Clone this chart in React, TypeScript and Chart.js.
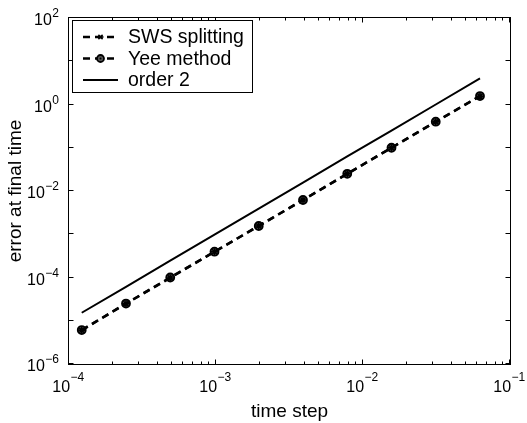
import React, { useEffect, useRef } from "react";
import { Chart, registerables } from "chart.js";

Chart.register(...registerables);

// ---- data ----
const timeSteps = [1.2207e-4, 2.4414e-4, 4.8828e-4, 9.7656e-4, 1.9531e-3, 3.9063e-3, 7.8125e-3, 1.5625e-2, 3.125e-2, 6.25e-2];
const swsError = [6.0e-6, 2.48e-5, 9.8e-5, 3.93e-4, 1.56e-3, 6.2e-3, 2.49e-2, 0.1, 0.398, 1.56];
const yeeError = [6.1e-6, 2.5e-5, 1.0e-4, 3.95e-4, 1.55e-3, 6.2e-3, 2.5e-2, 0.1, 0.4, 1.57];
const order2Line = [1.53e-5, 6.1e-5, 2.45e-4, 9.8e-4, 3.9e-3, 1.57e-2, 6.3e-2, 0.25, 1.0, 4.0];

const xTickExponents = [-4, -3, -2, -1];
const yMajorExponents = [-6, -5, -4, -3, -2, -1, 0, 1, 2];
const yLabelExponents = [-6, -4, -2, 0, 2];
const legendLabels = ["SWS splitting", "Yee method", "order 2"];
const xTitle = "time step";
const yTitle = "error at final time";

const FONT = '"Liberation Sans", Arial, Helvetica, sans-serif';

function supLabel(e: number) {
  return e < 0 ? "\u2212" + String(-e) : String(e);
}

export default function App() {
  const ref = useRef<HTMLCanvasElement>(null);

  useEffect(() => {
    const canvas = ref.current;
    if (!canvas) return;

    const decorations = {
      id: "matlabAxes",
      afterDraw(chart: any) {
        const ctx: CanvasRenderingContext2D = chart.ctx;
        const { left, right, top, bottom } = chart.chartArea;
        const xs = chart.scales.x;
        const ys = chart.scales.y;
        ctx.save();
        ctx.strokeStyle = "#000";
        ctx.fillStyle = "#000";
        ctx.lineWidth = 1;
        ctx.setLineDash([]);

        const L = Math.round(left) - 0.5;
        const R = Math.round(right) + 0.5;
        const T = Math.round(top) - 0.5;
        const B = Math.round(bottom) + 0.5;
        ctx.strokeRect(L, T, R - L, B - T);

        // x ticks (major + minor), inside, bottom and top
        ctx.beginPath();
        for (let i = 0; i < xTickExponents.length; i++) {
          const e = xTickExponents[i];
          const base = Math.pow(10, e);
          const px = Math.round(xs.getPixelForValue(base)) - 0.5;
          ctx.moveTo(px, B); ctx.lineTo(px, B - 5);
          ctx.moveTo(px, T); ctx.lineTo(px, T + 5);
          if (i < xTickExponents.length - 1) {
            for (let k = 2; k <= 9; k++) {
              const mx = Math.round(xs.getPixelForValue(k * base)) - 0.5;
              ctx.moveTo(mx, B); ctx.lineTo(mx, B - 3);
              ctx.moveTo(mx, T); ctx.lineTo(mx, T + 3);
            }
          }
        }
        for (const e of yMajorExponents) {
          const py = Math.round(ys.getPixelForValue(Math.pow(10, e))) - 0.5;
          ctx.moveTo(L, py); ctx.lineTo(L + 5, py);
          ctx.moveTo(R, py); ctx.lineTo(R - 5, py);
        }
        ctx.stroke();

        // tick labels
        const baseFont = "16px " + FONT;
        const expFont = "12px " + FONT;
        ctx.textBaseline = "alphabetic";
        ctx.textAlign = "left";
        for (const e of xTickExponents) {
          const px = xs.getPixelForValue(Math.pow(10, e));
          ctx.font = baseFont;
          const w1 = ctx.measureText("10").width;
          ctx.font = expFont;
          const s = supLabel(e);
          const w2 = ctx.measureText(s).width;
          const x0 = px - (w1 + w2) / 2 - 1;
          ctx.font = baseFont;
          ctx.fillText("10", x0, bottom + 28);
          ctx.font = expFont;
          ctx.fillText(s, x0 + w1 + 0.5, bottom + 17);
        }
        for (const e of yLabelExponents) {
          const py = ys.getPixelForValue(Math.pow(10, e));
          const s = supLabel(e);
          ctx.font = expFont;
          const w2 = ctx.measureText(s).width;
          ctx.font = baseFont;
          const w1 = ctx.measureText("10").width;
          const xr = left - 10;
          ctx.font = expFont;
          ctx.fillText(s, xr - w2, py - 1);
          ctx.font = baseFont;
          ctx.fillText("10", xr - w2 - w1 - 0.5, py + 7);
        }

        // axis titles
        ctx.font = "19px " + FONT;
        ctx.textAlign = "center";
        ctx.fillText(xTitle, (left + right) / 2, bottom + 53);
        ctx.save();
        ctx.translate(21, (top + bottom) / 2);
        ctx.rotate(-Math.PI / 2);
        ctx.fillText(yTitle, 0, 0);
        ctx.restore();

        // legend
        const lx = 72.5, ly = 20.5, lw = 180, lh = 72;
        ctx.fillStyle = "#fff";
        ctx.fillRect(lx, ly, lw, lh);
        ctx.strokeStyle = "#000";
        ctx.lineWidth = 1;
        ctx.strokeRect(lx, ly, lw, lh);
        ctx.fillStyle = "#000";
        const rows = [37, 58.5, 80];
        const ds = chart.data.datasets;
        for (let i = 0; i < legendLabels.length; i++) {
          const y = rows[i];
          const d = ds[i];
          ctx.save();
          ctx.lineWidth = d.borderWidth;
          ctx.setLineDash(d.borderDash || []);
          ctx.beginPath();
          ctx.moveTo(83, y);
          ctx.lineTo(118, y);
          ctx.stroke();
          ctx.restore();
          if (d.pointRadius > 0) {
            ctx.save();
            ctx.setLineDash([]);
            ctx.lineWidth = d.pointBorderWidth;
            ctx.strokeStyle = "#000";
            ctx.fillStyle = d.pointBackgroundColor;
            const r = d.legendMarker;
            if (d.pointStyle === "circle") {
              ctx.beginPath();
              ctx.arc(100.5, y, r, 0, Math.PI * 2);
              ctx.fill();
              ctx.stroke();
              ctx.beginPath();
              ctx.arc(100.5, y, 1, 0, Math.PI * 2);
              ctx.fillStyle = "#000";
              ctx.fill();
            } else {
              ctx.beginPath();
              ctx.moveTo(100.5 - r, y); ctx.lineTo(100.5 + r, y);
              ctx.moveTo(100.5 - r * 0.7, y - r * 0.7); ctx.lineTo(100.5 + r * 0.7, y + r * 0.7);
              ctx.moveTo(100.5 - r * 0.7, y + r * 0.7); ctx.lineTo(100.5 + r * 0.7, y - r * 0.7);
              ctx.stroke();
            }
            ctx.restore();
          }
          ctx.fillStyle = "#000";
          ctx.font = "19.5px " + FONT;
          ctx.textAlign = "left";
          ctx.textBaseline = "middle";
          ctx.fillText(legendLabels[i], 128, y + 1);
        }
        ctx.restore();
      },
    };

    const toPts = (ys: number[]) => timeSteps.map((x, i) => ({ x, y: ys[i] }));

    const chart = new Chart(canvas, {
      type: "line",
      data: {
        datasets: [
          {
            label: legendLabels[0],
            data: toPts(swsError),
            borderColor: "#000",
            borderWidth: 2.5,
            borderDash: [7, 5],
            pointStyle: "star",
            pointRadius: 3.5,
            pointBorderWidth: 1.5,
            pointBorderColor: "#000",
            pointBackgroundColor: "#000",
            legendMarker: 3,
            fill: false,
          } as any,
          {
            label: legendLabels[1],
            data: toPts(yeeError),
            borderColor: "#000",
            borderWidth: 2.5,
            borderDash: [7, 5],
            pointStyle: "circle",
            pointRadius: 4,
            pointBorderWidth: 1.8,
            pointBorderColor: "#000",
            pointBackgroundColor: "#555",
            legendMarker: 3.5,
            fill: false,
          } as any,
          {
            label: legendLabels[2],
            data: toPts(order2Line),
            borderColor: "#000",
            borderWidth: 2,
            pointRadius: 0,
            fill: false,
          } as any,
        ],
      },
      options: {
        animation: false,
        responsive: false,
        maintainAspectRatio: false,
        layout: { padding: { left: 69, right: 17, top: 18, bottom: 59 } },
        plugins: { legend: { display: false }, tooltip: { enabled: false } },
        scales: {
          x: { type: "logarithmic", min: 1e-4, max: 1e-1, display: false },
          y: { type: "logarithmic", min: 1e-6, max: 1e2, display: false },
        },
      },
      plugins: [decorations],
    });

    return () => chart.destroy();
  }, []);

  return (
    <div style={{ position: "fixed", left: 0, top: 0, width: 527, height: 423, background: "#fff" }}>
      <canvas ref={ref} width={527} height={423} style={{ display: "block", width: 527, height: 423 }} />
    </div>
  );
}
